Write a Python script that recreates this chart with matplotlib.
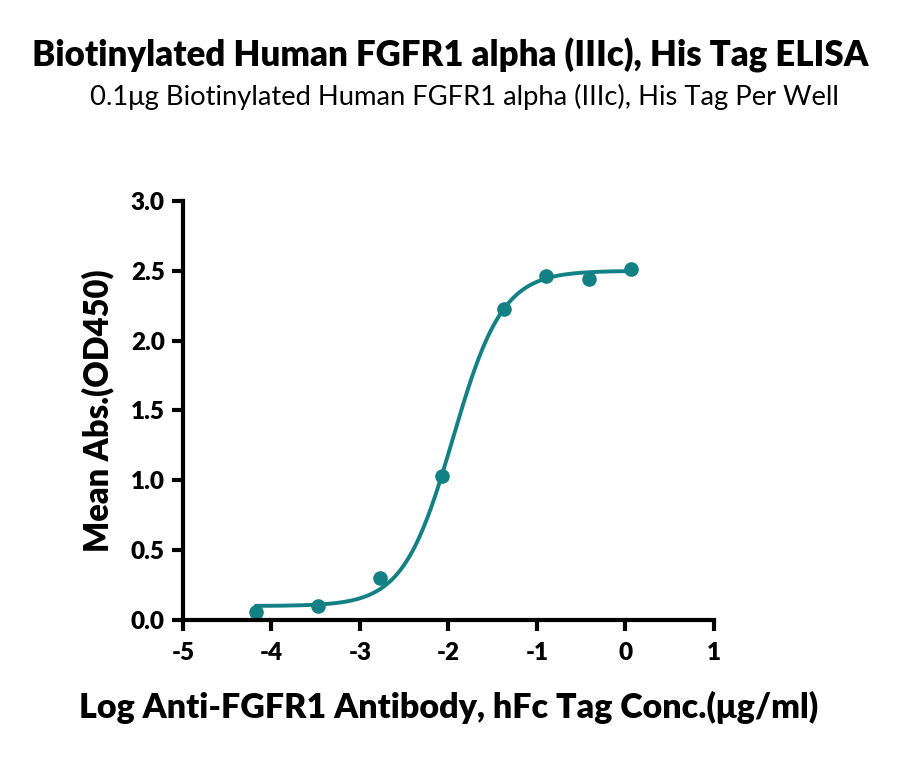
import numpy as np
import matplotlib
matplotlib.use("Agg")
import matplotlib.pyplot as plt

# measured points (log conc, OD450)
log_conc = [-4.18, -3.47, -2.77, -2.07, -1.37, -0.90, -0.41, 0.06]
mean_abs = [0.06, 0.10, 0.30, 1.03, 2.23, 2.46, 2.44, 2.51]

# 4PL fit parameters
fit_bottom = 0.10
fit_top = 2.50
fit_log_ec50 = -1.95
fit_hill = 1.55

x_ticks = [-5, -4, -3, -2, -1, 0, 1]
y_ticks = [0.0, 0.5, 1.0, 1.5, 2.0, 2.5, 3.0]

color = "#138084"
plt.rcParams['font.family'] = ['Lato', 'DejaVu Sans']

fig = plt.figure(figsize=(9, 7.58), dpi=100)
ax = fig.add_axes([0.2033, 0.1821, 0.59, 0.5527])

xs = np.linspace(log_conc[0], log_conc[-1], 300)
ys = fit_bottom + (fit_top - fit_bottom) / (1 + 10 ** ((fit_log_ec50 - xs) * fit_hill))
ax.plot(xs, ys, color=color, lw=2.8, solid_capstyle='round')
ax.plot(log_conc, mean_abs, 'o', color=color, ms=9.5, mec=color)

ax.set_xlim(-5, 1)
ax.set_ylim(0, 3)
ax.set_xticks(x_ticks)
ax.set_yticks(y_ticks)
ax.set_xticklabels([str(t) for t in x_ticks], fontsize=17.5, fontweight='heavy')
ax.set_yticklabels([f"{t:.1f}" for t in y_ticks], fontsize=17.5, fontweight='heavy')
for s in ['top', 'right']:
    ax.spines[s].set_visible(False)
for s in ['left', 'bottom']:
    ax.spines[s].set_linewidth(3)
ax.tick_params(width=3, length=8, direction='out')
ax.tick_params(axis='y', pad=5)
ax.tick_params(axis='x', pad=8)

ax.set_xlabel("Log Anti-FGFR1 Antibody, hFc Tag Conc.(μg/ml)", fontsize=24.5, fontweight='heavy', labelpad=19)
ax.set_ylabel("Mean Abs.(OD450)", fontsize=23.5, fontweight='heavy', labelpad=12)

fig.text(0.5, 0.927, "Biotinylated Human FGFR1 alpha (IIIc), His Tag ELISA",
         ha='center', va='center', fontsize=25, fontweight='heavy')
fig.text(0.516, 0.872, "0.1μg Biotinylated Human FGFR1 alpha (IIIc), His Tag Per Well",
         ha='center', va='center', fontsize=19.7)

fig.savefig("out.png", dpi=100)
